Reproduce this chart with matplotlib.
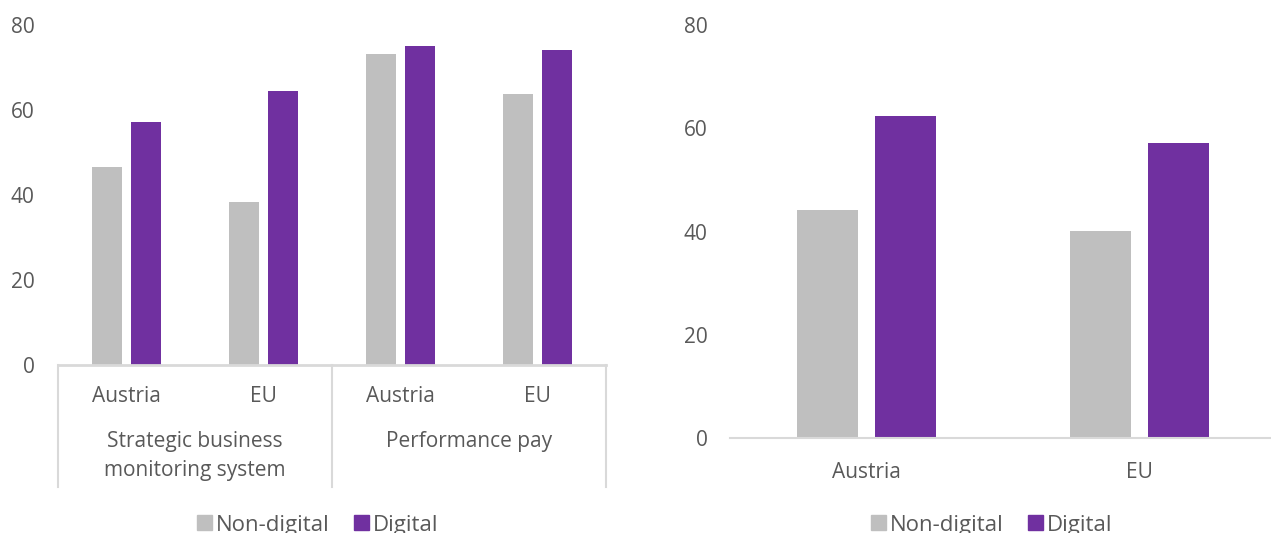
import numpy as np
import matplotlib
matplotlib.use('Agg')
import matplotlib.pyplot as plt
from matplotlib.patches import Patch

plt.rcParams['font.family'] = ['Open Sans', 'DejaVu Sans']

# left panel data
regions = ['Austria', 'EU', 'Austria', 'EU']
groups = ['Strategic business\nmonitoring system', 'Performance pay']
left_nondigital = [46.6, 38.4, 73.2, 63.8]
left_digital = [57.2, 64.5, 75.1, 74.1]

# right panel data
right_regions = ['Austria', 'EU']
right_nondigital = [44.2, 40.1]
right_digital = [62.4, 57.2]

series = ['Non-digital', 'Digital']
GREY = '#bfbfbf'
PURPLE = '#7030a0'
TXT = '#595959'
LINE = '#d9d9d9'
FS = 15

W, H = 1271, 533
fig = plt.figure(figsize=(W/100, H/100), dpi=100)

def px_axes(x0, y0, x1, y1):
    return fig.add_axes([x0/W, (H-y1)/H, (x1-x0)/W, (y1-y0)/H])

def style(ax):
    for s in ['top', 'right', 'left']:
        ax.spines[s].set_visible(False)
    ax.spines['bottom'].set_color(LINE)
    ax.spines['bottom'].set_linewidth(1.5)
    ax.set_ylim(0, 80)
    ax.set_yticks([0, 20, 40, 60, 80])
    ax.tick_params(axis='y', length=0, labelsize=FS, labelcolor=TXT)
    ax.tick_params(axis='x', length=0, labelsize=FS, labelcolor=TXT)

bw = 0.225
off = 0.142

# ---- left
ax1 = px_axes(58, 25, 606, 365)
style(ax1)
x = np.arange(len(regions))
ax1.bar(x - off, left_nondigital, bw, color=GREY)
ax1.bar(x + off, left_digital, bw, color=PURPLE)
ax1.set_xlim(-0.5, len(regions) - 0.5)
ax1.set_xticks(x)
ax1.set_xticklabels(regions)
ax1.tick_params(axis='x', pad=15)
ax1.tick_params(axis='y', pad=17)
ax1.spines['bottom'].set_linewidth(2)
# multi-level category separators
trans = ax1.get_xaxis_transform()
for xv in [-0.5, 1.5, 3.5]:
    ax1.plot([xv, xv], [0, -0.36], color=LINE, lw=1.5, transform=trans, clip_on=False)
for i, g in enumerate(groups):
    ax1.text(2*i + 0.5, -0.195, g, transform=trans, ha='center', va='top',
             fontsize=FS, color=TXT, linespacing=1.5)

# ---- right
ax2 = px_axes(730, 25, 1276, 438)
style(ax2)
x2 = np.arange(len(right_regions))
ax2.bar(x2 - off, right_nondigital, bw, color=GREY)
ax2.bar(x2 + off, right_digital, bw, color=PURPLE)
ax2.set_xlim(-0.5, len(right_regions) - 0.5)
ax2.set_xticks(x2)
ax2.set_xticklabels(right_regions)
ax2.tick_params(axis='x', pad=17)
ax2.tick_params(axis='y', pad=16)

# legends
handles = [Patch(color=GREY, label=series[0]), Patch(color=PURPLE, label=series[1])]
for cx in [318/W, 992/W]:
    fig.legend(handles=handles, loc='center', bbox_to_anchor=(cx, 8/H), ncol=2,
               frameon=False, fontsize=16, labelcolor=TXT, handlelength=0.65,
               handleheight=0.65, handletextpad=0.2, columnspacing=1.1)

fig.savefig('out.png', dpi=100)
